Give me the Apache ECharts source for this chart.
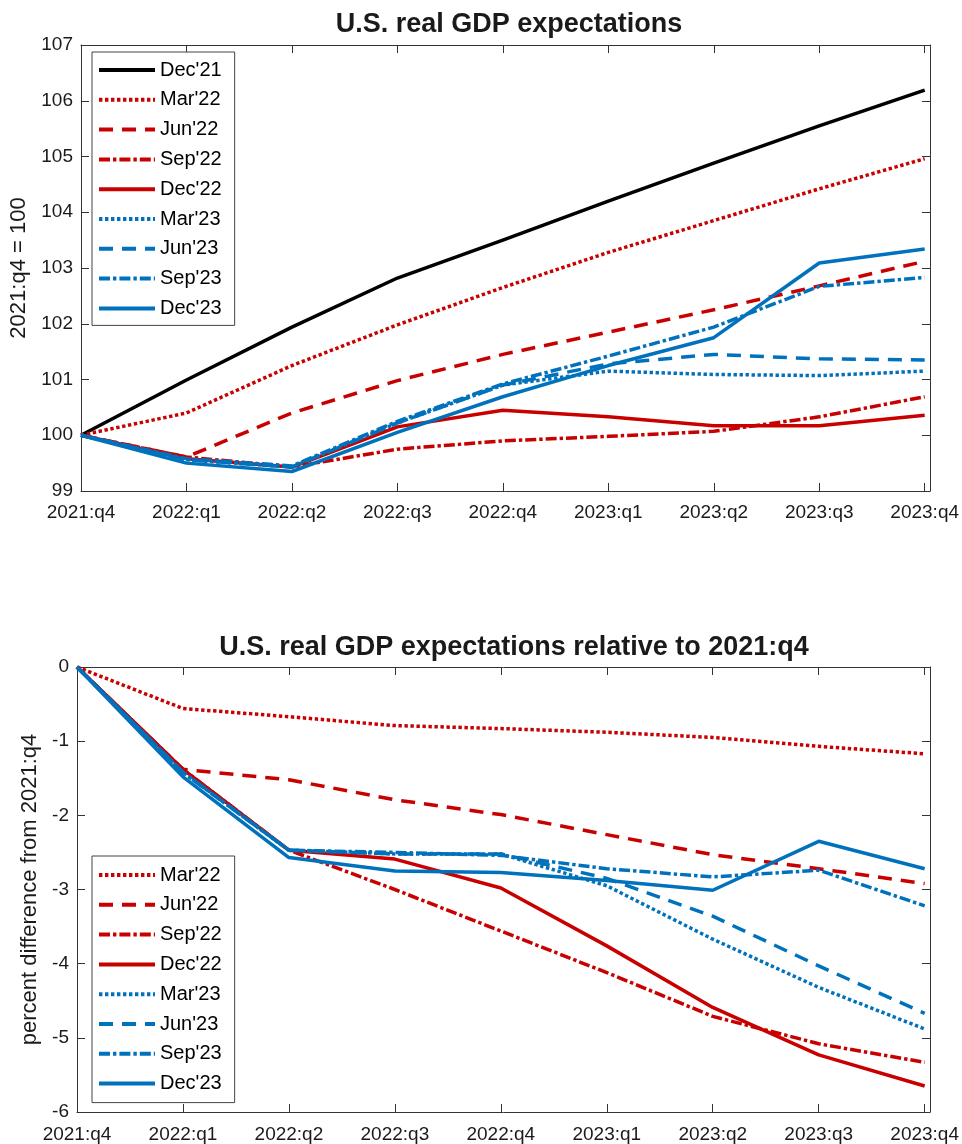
<!DOCTYPE html>
<html>
<head>
<meta charset="utf-8">
<script src="https://cdn.jsdelivr.net/npm/echarts@6/dist/echarts.min.js"></script>
<style>
html,body{margin:0;padding:0;background:#fff;}
#chart{width:962px;height:1144px;}
</style>
</head>
<body>
<div id="chart"></div>
<script>
// ---- data ----
var quarters = ['2021:q4','2022:q1','2022:q2','2022:q3','2022:q4','2023:q1','2023:q2','2023:q3','2023:q4'];
var yTicksTop = [99,100,101,102,103,104,105,106,107];
var yTicksBottom = [-6,-5,-4,-3,-2,-1,0];

// top panel: levels, 2021:q4 = 100
var dec21 = [100, 100.99, 101.94, 102.82, 103.50, 104.20, 104.88, 105.55, 106.19];
var mar22 = [100, 100.40, 101.25, 101.98, 102.65, 103.28, 103.85, 104.42, 104.96];
var jun22 = [100, 99.61, 100.40, 100.98, 101.45, 101.85, 102.25, 102.68, 103.12];
var sep22 = [100, 99.61, 99.43, 99.75, 99.90, 99.98, 100.07, 100.33, 100.69];
var dec22 = [100, 99.58, 99.43, 100.15, 100.45, 100.33, 100.17, 100.17, 100.36];
var mar23 = [100, 99.56, 99.43, 100.22, 100.90, 101.15, 101.09, 101.07, 101.15];
var jun23 = [100, 99.56, 99.43, 100.22, 100.90, 101.28, 101.45, 101.37, 101.35];
var sep23 = [100, 99.58, 99.45, 100.25, 100.92, 101.42, 101.94, 102.67, 102.83];
var dec23 = [100, 99.50, 99.35, 100.05, 100.69, 101.25, 101.75, 103.09, 103.34];

// bottom panel: percent difference from Dec'21 path
var mar22b = [0, -0.56, -0.67, -0.79, -0.83, -0.88, -0.95, -1.07, -1.17];
var jun22b = [0, -1.38, -1.52, -1.79, -1.99, -2.26, -2.53, -2.72, -2.92];
var sep22b = [0, -1.38, -2.47, -3.00, -3.56, -4.12, -4.71, -5.08, -5.33];
var dec22b = [0, -1.38, -2.47, -2.59, -2.98, -3.76, -4.59, -5.23, -5.65];
var mar23b = [0, -1.42, -2.47, -2.52, -2.52, -2.95, -3.67, -4.32, -4.88];
var jun23b = [0, -1.42, -2.47, -2.52, -2.52, -2.85, -3.36, -4.03, -4.67];
var sep23b = [0, -1.42, -2.47, -2.50, -2.54, -2.72, -2.83, -2.74, -3.22];
var dec23b = [0, -1.48, -2.57, -2.75, -2.77, -2.88, -3.01, -2.35, -2.72];

var namesTop = ["Dec'21","Mar'22","Jun'22","Sep'22","Dec'22","Mar'23","Jun'23","Sep'23","Dec'23"];
var namesBottom = ["Mar'22","Jun'22","Sep'22","Dec'22","Mar'23","Jun'23","Sep'23","Dec'23"];

// ---- styles ----
var RED = '#C80000', BLUE = '#0072BD', BLACK = '#000000';
var DOT = [3.4, 2.6], DASH = [14, 9], DASHDOT = [11, 3, 3.4, 3];
var styleMap = {
  "Dec'21": {c: BLACK, t: 'solid'},
  "Mar'22": {c: RED, t: DOT},
  "Jun'22": {c: RED, t: DASH},
  "Sep'22": {c: RED, t: DASHDOT},
  "Dec'22": {c: RED, t: 'solid'},
  "Mar'23": {c: BLUE, t: DOT},
  "Jun'23": {c: BLUE, t: DASH},
  "Sep'23": {c: BLUE, t: DASHDOT},
  "Dec'23": {c: BLUE, t: 'solid'}
};
var topData = [dec21, mar22, jun22, sep22, dec22, mar23, jun23, sep23, dec23];
var bottomData = [mar22b, jun22b, sep22b, dec22b, mar23b, jun23b, sep23b, dec23b];

var FONT = 'Liberation Sans, Arial, Helvetica, sans-serif';
var AXC = '#333333';
var TXT = '#1a1a1a';
var LW = 3.5;
var xIdx = [0,1,2,3,4,5,6,7,8];

function mkX(grid, pos, showLabel, margin) {
  return {
    type: 'value', gridIndex: grid, position: pos, min: 0, max: 8.05,
    axisLine: {show: true, onZero: false, lineStyle: {color: AXC, width: 1}},
    axisTick: {show: true, inside: true, length: 8, customValues: xIdx, lineStyle: {color: AXC}},
    axisLabel: {show: showLabel, customValues: xIdx, margin: margin || 9, fontSize: 19, color: TXT, fontFamily: FONT,
      formatter: function (v) { return quarters[Math.round(v)] || ''; }},
    splitLine: {show: false}
  };
}
function mkY(grid, pos, min, max, showLabel, name, gap) {
  return {
    type: 'value', gridIndex: grid, position: pos, min: min, max: max, interval: 1,
    axisLine: {show: true, onZero: false, lineStyle: {color: AXC, width: 1}},
    axisTick: {show: true, inside: true, length: 8, lineStyle: {color: AXC}},
    axisLabel: {show: showLabel, margin: 8, fontSize: 19, color: TXT, fontFamily: FONT},
    splitLine: {show: false},
    name: name || '', nameLocation: 'middle', nameGap: gap || 0, nameRotate: 90,
    nameTextStyle: {fontSize: 22, color: TXT, fontFamily: FONT}
  };
}

var series = [];
topData.forEach(function (arr, k) {
  var nm = namesTop[k], st = styleMap[nm];
  series.push({
    name: nm, type: 'line', xAxisIndex: 0, yAxisIndex: 0, symbol: 'none', animation: false,
    data: arr.map(function (v, i) { return [i, v]; }),
    lineStyle: {color: st.c, width: LW, type: st.t, cap: 'butt', join: 'round'},
    itemStyle: {color: st.c}, z: 2 + k
  });
});
bottomData.forEach(function (arr, k) {
  var nm = namesBottom[k], st = styleMap[nm];
  series.push({
    name: nm, type: 'line', xAxisIndex: 2, yAxisIndex: 2, symbol: 'none', animation: false,
    data: arr.map(function (v, i) { return [i, v]; }),
    lineStyle: {color: st.c, width: LW, type: st.t, cap: 'butt', join: 'round'},
    itemStyle: {color: st.c}, z: 2 + k
  });
});

var legendCommon = {
  orient: 'vertical', left: 92, itemWidth: 56, itemHeight: 20, itemGap: 9.8,
  backgroundColor: '#fff', borderColor: '#444', borderWidth: 1, borderRadius: 0,
  padding: [8, 13, 7, 5], selectedMode: false,
  itemStyle: {opacity: 0},
  lineStyle: {width: 4},
  textStyle: {fontSize: 20, color: '#000', fontFamily: FONT}
};

var option = {
  backgroundColor: '#fff',
  animation: false,
  title: [
    {text: 'U.S. real GDP expectations', left: 504, top: 6, textAlign: 'center',
      textStyle: {fontSize: 27, fontWeight: 'bold', color: TXT, fontFamily: FONT}},
    {text: 'U.S. real GDP expectations relative to 2021:q4', left: 509, top: 629, textAlign: 'center',
      textStyle: {fontSize: 27, fontWeight: 'bold', color: TXT, fontFamily: FONT}}
  ],
  grid: [
    {left: 77, top: 45, width: 855, height: 446, show: true, backgroundColor: '#fff', borderWidth: 0},
    {left: 77, top: 667, width: 855, height: 446, show: true, backgroundColor: '#fff', borderWidth: 0}
  ],
  xAxis: [mkX(0, 'bottom', true, 12), mkX(0, 'top', false), mkX(1, 'bottom', true, 13), mkX(1, 'top', false)],
  yAxis: [
    mkY(0, 'left', 99, 107, true, '2021:q4 = 100', 51),
    mkY(0, 'right', 99, 107, false),
    mkY(1, 'left', -6, 0, true, 'percent difference from 2021:q4', 33),
    mkY(1, 'right', -6, 0, false)
  ],
  legend: [
    Object.assign({}, legendCommon, {top: 52, data: namesTop}),
    Object.assign({}, legendCommon, {top: 856, padding: [9, 13, 9, 5], data: namesBottom})
  ],
  series: series
};

var chart = echarts.init(document.getElementById('chart'), null, {renderer: 'canvas'});
chart.setOption(option);
</script>
</body>
</html>
